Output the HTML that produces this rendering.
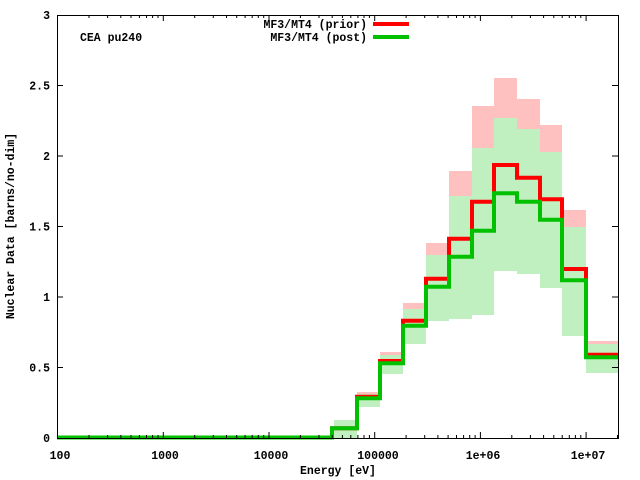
<!DOCTYPE html>
<html><head><meta charset="utf-8"><style>
html,body{margin:0;padding:0;background:#fff}
svg{display:block}
text{font-family:"Liberation Mono","DejaVu Sans Mono",monospace;font-weight:bold;font-size:11.5px;fill:#000}
</style></head><body>
<svg width="640" height="480" viewBox="0 0 640 480" xmlns="http://www.w3.org/2000/svg">
<!-- pink bands -->
<g fill="#ffc0c0">
<rect x="357" y="392" width="23" height="15"/>
<rect x="380" y="352" width="23" height="22"/>
<rect x="403" y="303" width="23" height="41"/>
<rect x="426" y="243" width="23" height="78"/>
<rect x="449" y="171" width="23" height="148"/>
<rect x="472" y="106" width="22" height="209"/>
<rect x="494" y="78" width="23" height="193"/>
<rect x="517" y="99" width="23" height="175"/>
<rect x="540" y="125" width="22" height="163"/>
<rect x="562" y="210" width="24" height="126"/>
<rect x="586" y="341" width="32" height="32"/>
</g>
<!-- green bands -->
<g fill="#c0f0c0">
<rect x="334" y="420" width="23" height="18"/>
<rect x="357" y="394" width="23" height="13"/>
<rect x="380" y="355" width="23" height="19"/>
<rect x="403" y="309" width="23" height="35"/>
<rect x="426" y="255" width="23" height="66"/>
<rect x="449" y="196" width="23" height="123"/>
<rect x="472" y="148" width="22" height="167"/>
<rect x="494" y="118" width="23" height="153"/>
<rect x="517" y="129" width="23" height="145"/>
<rect x="540" y="152" width="22" height="136"/>
<rect x="562" y="227" width="24" height="109"/>
<rect x="586" y="344" width="32" height="29"/>
</g>
<!-- red line -->
<polyline fill="none" stroke="#ff0000" stroke-width="4" points="57,437.5 332,437.5 332,428.3 357,428.3 357,396.7 380,396.7 380,361 403,361 403,320.7 426,320.7 426,278.7 449,278.7 449,238.7 472,238.7 472,201.7 494,201.7 494,165 517,165 517,177.7 540,177.7 540,199.3 562,199.3 562,269 586,269 586,354.7 618,354.7"/>
<!-- green line -->
<polyline fill="none" stroke="#00c000" stroke-width="4" points="57,437.5 332,437.5 332,428.3 357,428.3 357,398.3 380,398.3 380,363.3 403,363.3 403,325.7 426,325.7 426,286.7 449,286.7 449,256.7 472,256.7 472,230.7 494,230.7 494,193.3 517,193.3 517,201.7 540,201.7 540,219.7 562,219.7 562,280.3 586,280.3 586,357.3 618,357.3"/>
<!-- frame -->
<rect x="57.5" y="15.5" width="561" height="423" fill="none" stroke="#000" stroke-width="1"/>
<g stroke="#000" stroke-width="1" id="ticks">
<path d="M57,367.5h6M618,367.5h-6M57,297h6M618,297h-6M57,226.5h6M618,226.5h-6M57,156h6M618,156h-6M57,85.5h6M618,85.5h-6"/>
<path d="M163.3,438v-6M163.3,15v6M269,438v-6M269,15v6M374.7,438v-6M374.7,15v6M480.4,438v-6M480.4,15v6M586.1,438v-6M586.1,15v6"/>
<path d="M89,438v-3M89,15v3M107.6,438v-3M107.6,15v3M120.8,438v-3M120.8,15v3M131,438v-3M131,15v3M139.4,438v-3M139.4,15v3M146.5,438v-3M146.5,15v3M152.6,438v-3M152.6,15v3M158,438v-3M158,15v3
M194.7,438v-3M194.7,15v3M213.3,438v-3M213.3,15v3M226.5,438v-3M226.5,15v3M236.7,438v-3M236.7,15v3M245.1,438v-3M245.1,15v3M252.2,438v-3M252.2,15v3M258.3,438v-3M258.3,15v3M263.7,438v-3M263.7,15v3
M300.4,438v-3M300.4,15v3M319,438v-3M319,15v3M332.2,438v-3M332.2,15v3M342.4,438v-3M342.4,15v3M350.8,438v-3M350.8,15v3M357.9,438v-3M357.9,15v3M364,438v-3M364,15v3M369.4,438v-3M369.4,15v3
M406.1,438v-3M406.1,15v3M424.7,438v-3M424.7,15v3M437.9,438v-3M437.9,15v3M448.1,438v-3M448.1,15v3M456.5,438v-3M456.5,15v3M463.6,438v-3M463.6,15v3M469.7,438v-3M469.7,15v3M475.1,438v-3M475.1,15v3
M511.8,438v-3M511.8,15v3M530.4,438v-3M530.4,15v3M543.6,438v-3M543.6,15v3M553.8,438v-3M553.8,15v3M562.2,438v-3M562.2,15v3M569.3,438v-3M569.3,15v3M575.4,438v-3M575.4,15v3M580.8,438v-3M580.8,15v3
M617.5,438v-3"/>
</g>
<!-- y labels -->
<g text-anchor="end">
<text x="50" y="442">0</text>
<text x="50" y="371.5">0.5</text>
<text x="50" y="301">1</text>
<text x="50" y="230.5">1.5</text>
<text x="50" y="160">2</text>
<text x="50" y="89.5">2.5</text>
<text x="50" y="19">3</text>
</g>
<!-- x labels -->
<g text-anchor="middle">
<text x="60" y="459">100</text>
<text x="165" y="459">1000</text>
<text x="271" y="459">10000</text>
<text x="378" y="459">100000</text>
<text x="483" y="459">1e+06</text>
<text x="588" y="459">1e+07</text>
<text x="338" y="474">Energy [eV]</text>
</g>
<text x="14" y="226" text-anchor="middle" transform="rotate(-90 14 226)">Nuclear Data [barns/no-dim]</text>
<text x="80" y="41">CEA pu240</text>
<text x="367" y="28" text-anchor="end">MF3/MT4 (prior)</text>
<text x="367" y="41" text-anchor="end">MF3/MT4 (post)</text>
<line x1="373" y1="24" x2="409" y2="24" stroke="#ff0000" stroke-width="4"/>
<line x1="373" y1="37" x2="409" y2="37" stroke="#00c000" stroke-width="4"/>
</svg>
</body></html>
